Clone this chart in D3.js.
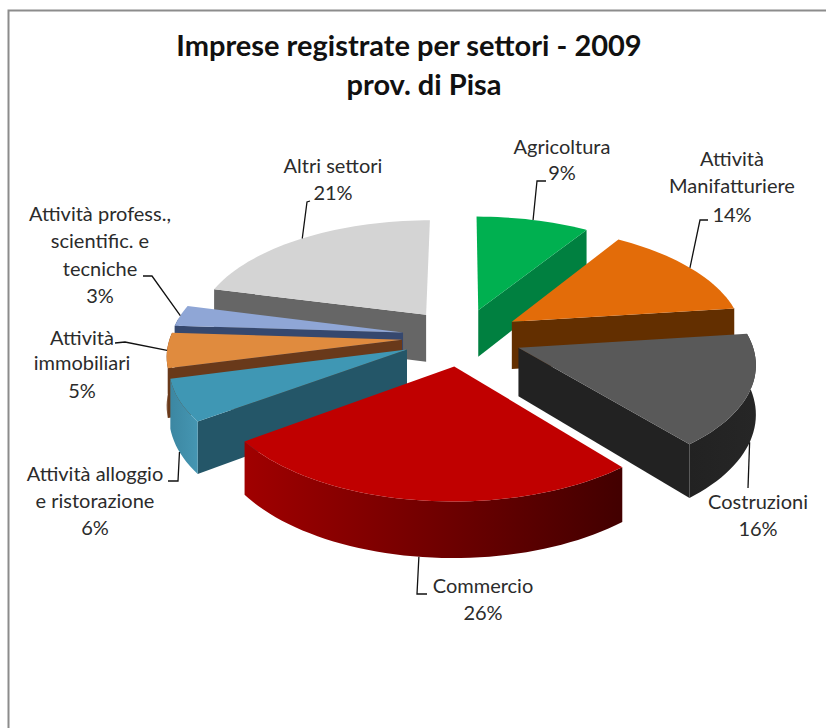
<!DOCTYPE html>
<html>
<head>
<meta charset="utf-8">
<style>
  html, body { margin: 0; padding: 0; background: #fff; }
  svg { display: block; }
  text { font-family: Lato, "Open Sans", sans-serif; }
</style>
</head>
<body>
<svg id="chart" width="826" height="728"></svg>
<script src="https://cdn.jsdelivr.net/npm/d3@7"></script>
<script>
// data
const titleLines = ["Imprese registrate per settori - 2009", "prov. di Pisa"];
const sectors = [
  "Agricoltura", "Attività Manifatturiere", "Costruzioni", "Commercio",
  "Attività alloggio e ristorazione", "Attività immobiliari",
  "Attività profess., scientific. e tecniche", "Altri settori"
];
const shares = [9, 14, 16, 26, 6, 5, 3, 21];

// colours, same order as sectors
const topColors = ["#00b050", "#e36c09", "#595959", "#c00000", "#3f97b4", "#e08b3e", "#8fa6d6", "#d4d4d4"];
const wallColors = ["#008040", "#632f00", "#222222", "#7a0000", "#245668", "#69391a", "#36486e", "#666666"];
// rim shading, left to right on screen
const rimColors = [
  ["#008040", "#008040"], ["#632f00", "#632f00"], ["#222222", "#262626"], ["#a00000", "#420000"],
  ["#3c87a2", "#4596b2"], ["#69391a", "#69391a"], ["#36486e", "#36486e"], ["#666666", "#666666"]
];
// paint order: far slices first
const paintOrder = [7, 0, 6, 5, 4, 1, 2, 3];

// label layout: text lines with centre x and baseline, and leader elbows
const titleLayout = [{ x: 409, y: 56 }, { x: 424, y: 95 }];
const labelLayout = [
  { lines: ["Agricoltura", "9%"], x: 562, y: [154, 180], leader: [[537, 181], [546, 181]] },
  { lines: ["Attività", "Manifatturiere", "14%"], x: 732, y: [166, 193, 222], leader: [[700, 220], [708, 220]] },
  { lines: ["Costruzioni", "16%"], x: 758, y: [509, 536], leader: [[748, 488]] },
  { lines: ["Commercio", "26%"], x: 483, y: [593, 620], leader: [[417, 594], [427, 594]] },
  { lines: ["Attività alloggio", "e ristorazione", "6%"], x: 95, y: [481, 508, 535], leader: [[178, 481], [168, 481]] },
  { lines: ["Attività", "immobiliari", "5%"], x: 82, y: [345, 370, 398], leader: [[125, 342], [115, 343]] },
  { lines: ["Attività profess.,", "scientific. e", "tecniche", "3%"], x: 100, y: [221, 248, 276, 303], leader: [[152, 276], [143, 276]] },
  { lines: ["Altri settori", "21%"], x: 333, y: [173, 200], leader: [[307, 202], [310, 201]] }
];

const cx = 462, cy = 337, radiusX = 232, radiusY = 111;
const explodePx = 60, depth = 48, persp = 0.121;
const explodeU = explodePx / radiusX;

const svg = d3.select("#chart");
const defs = svg.append("defs");

// frame: only top and left edges show in the reference
svg.append("path")
  .attr("d", "M8.5,728V10.5H826")
  .attr("fill", "none")
  .attr("stroke", "#8c8c8c")
  .attr("stroke-width", 2);

svg.selectAll("text.title")
  .data(titleLines)
  .join("text")
  .attr("class", "title")
  .attr("x", (d, i) => titleLayout[i].x)
  .attr("y", (d, i) => titleLayout[i].y)
  .attr("text-anchor", "middle")
  .attr("font-size", 29)
  .attr("font-weight", 700)
  .attr("fill", "#111")
  .text(d => d);

const x = d3.scaleLinear().domain([-1, 1]).range([cx - radiusX, cx + radiusX]);
const y = d3.scaleLinear().domain([-1, 1]).range([cy + radiusY, cy - radiusY]);

const arcs = d3.pie().sort(null).startAngle(0).endAngle(2 * Math.PI)(shares);

// point of a slice at angle a, rho 1 on the rim, rho 0 the apex, with perspective
function project(d, rho, a, down = 0) {
  const mid = (d.startAngle + d.endAngle) / 2;
  const u = explodeU * Math.sin(mid) + rho * Math.sin(a);
  const v = explodeU * Math.cos(mid) + rho * Math.cos(a);
  const s = 1 / (1 + persp * v);
  return [x(u * s), y(v * s) + down * s];
}

const line = d3.line();
const slices = svg.append("g").attr("class", "pie");

paintOrder.forEach(i => {
  const d = arcs[i];
  const g = slices.append("g").attr("class", "slice");
  const steps = d3.range(d.startAngle, d.endAngle, Math.PI / 90).concat(d.endAngle);

  // side walls facing the viewer
  const sides = [];
  if (Math.sin(d.endAngle) > 0.02) sides.push(d.endAngle);
  if (Math.sin(d.startAngle) < -0.02) sides.push(d.startAngle);
  g.selectAll("path.side")
    .data(sides)
    .join("path")
    .attr("class", "side")
    .attr("d", a => line([
      project(d, 0, a), project(d, 1, a), project(d, 1, a, depth), project(d, 0, a, depth)
    ]) + "Z")
    .attr("fill", wallColors[i]);

  // outer rim with a left to right gradient
  const near = steps.filter(a => Math.cos(a) < 0.15);
  if (near.length > 1) {
    const grad = defs.append("linearGradient").attr("id", "rim" + i);
    grad.selectAll("stop")
      .data(rimColors[i])
      .join("stop")
      .attr("offset", (c, j) => j)
      .attr("stop-color", c => c);
    const upper = near.map(a => project(d, 1, a));
    const lower = near.map(a => project(d, 1, a, depth)).reverse();
    g.append("path")
      .attr("class", "rim")
      .attr("d", line(upper.concat(lower)) + "Z")
      .attr("fill", `url(#rim${i})`);
  }

  // top face
  g.append("path")
    .attr("d", line([project(d, 0, 0)].concat(steps.map(a => project(d, 1, a)))) + "Z")
    .attr("fill", topColors[i]);
});

// leaders start at the middle of each slice's outer edge
svg.append("g").attr("class", "leaders")
  .selectAll("path")
  .data(arcs)
  .join("path")
  .attr("d", (d, i) => {
    const mid = (d.startAngle + d.endAngle) / 2;
    const start = project(d, 1, mid, Math.cos(mid) < -0.2 ? depth : 0);
    return line([start].concat(labelLayout[i].leader));
  })
  .attr("fill", "none")
  .attr("stroke", "#111")
  .attr("stroke-width", 1.3);

const labels = svg.append("g").attr("class", "labels")
  .selectAll("text")
  .data(labelLayout)
  .join("text")
  .attr("text-anchor", "middle")
  .attr("font-size", 20)
  .attr("fill", "#2b2b2b");

labels.selectAll("tspan")
  .data(d => d.lines.map((t, j) => ({ t, x: d.x, y: d.y[j] })))
  .join("tspan")
  .attr("x", d => d.x)
  .attr("y", d => d.y)
  .text(d => d.t);
</script>
</body>
</html>
